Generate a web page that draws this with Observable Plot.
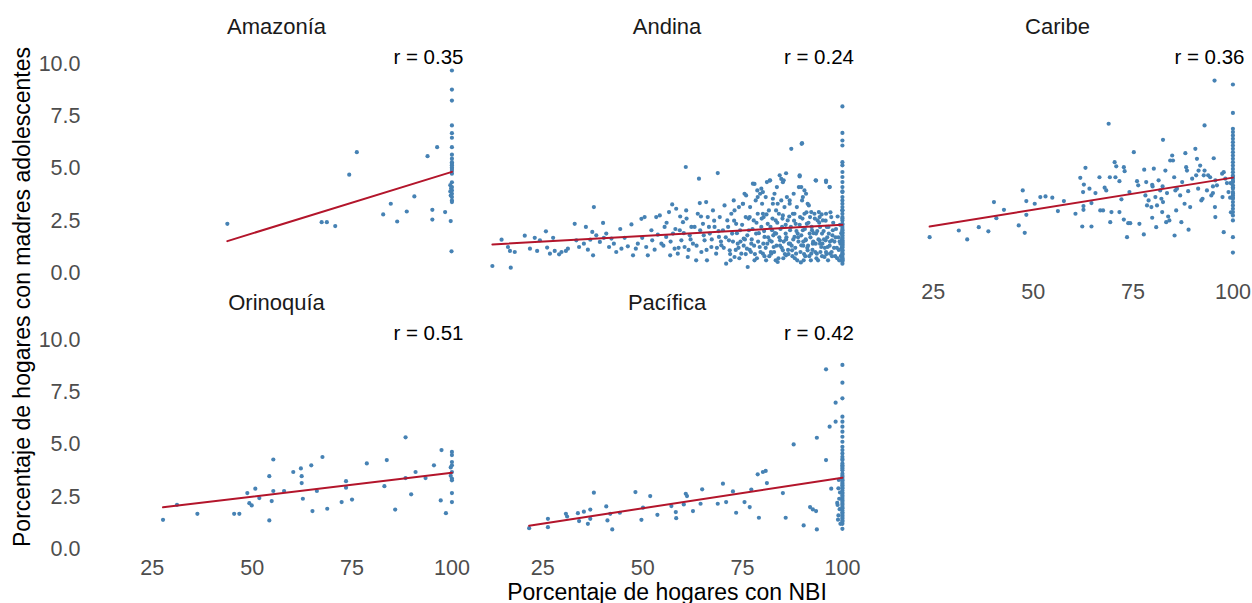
<!DOCTYPE html>
<html>
<head>
<meta charset="utf-8">
<script src="https://cdn.jsdelivr.net/npm/d3@7"></script>
<script src="https://cdn.jsdelivr.net/npm/@observablehq/plot@0.6"></script>
<style>
  html, body { margin: 0; padding: 0; background: #fff; }
  #wrap { position: relative; width: 1252px; height: 603px; font-family: "Liberation Sans", Arial, sans-serif; }
  #wrap svg { position: absolute; left: 0; top: 0; }
  .xtitle { position: absolute; left: 667px; top: 582px; transform: translateX(-50%); font-size: 23px; line-height: 20px; white-space: nowrap; color: #000; }
  .ytitle { position: absolute; left: 22px; top: 297px; transform: translate(-50%, -50%) rotate(-90deg); font-size: 23px; line-height: 23px; white-space: nowrap; color: #000; }
</style>
</head>
<body>
<div id="wrap"></div>
<script>
const regions = ["Amazonía", "Andina", "Caribe", "Orinoquía", "Pacífica"];
const regionCol = [0, 1, 2, 0, 1];
const regionRow = [0, 0, 0, 1, 1];
const rLabels = ["r = 0.35", "r = 0.24", "r = 0.36", "r = 0.51", "r = 0.42"];
const xTicks = [25, 50, 75, 100];
const yTicks = [0, 2.5, 5, 7.5, 10];
const xTitle = "Porcentaje de hogares con NBI";
const yTitle = "Porcentaje de hogares con madres adolescentes";

const amazonia = [
  [43.8,2.35],[67.4,2.43],[68.7,2.43],[70.8,2.24],[74.3,4.70],[76.2,5.78],[82.8,2.80],[84.7,3.31],
  [86.3,2.46],[88.7,2.94],[90.6,3.66],[93.9,5.59],[95.1,3.02],[95.1,2.55],[96.3,6.02],[98.3,2.91],
  [99.7,2.48],[99.9,1.03],
  [100,9.69],[100,8.78],[100,8.25],[100,7.06],[100,6.69],[100,6.47],[100,6.02],[100,5.66],[100,5.47],
  [100,5.23],[100,4.98],[100,4.75],[100,4.34],[100,4.11],[100,3.95],[100,3.79],[100,3.63],[100,3.47],
  [100,3.39],[99.6,4.2],[99.6,3.9],[99.7,3.7],[99.8,4.05],[100,5.05],[100,5.15],[100,5.3],[100,4.88]
];

const orinoquia = [
  [27.7,1.39],[31.2,2.11],[36.3,1.68],[45.5,1.68],[46.8,1.68],[48.8,2.67],[49.3,2.19],[49.9,2.08],
  [50.8,2.88],[51.8,2.43],[54.3,3.48],[54.3,1.36],[54.9,2.29],[55.3,4.28],[55.3,2.77],[58.0,2.77],
  [60.3,3.68],[62.2,3.85],[62.4,3.48],[62.4,3.15],[62.7,2.40],[64.8,4.00],[65.1,1.81],[66.2,2.77],
  [67.6,4.40],[68.8,1.92],[72.4,2.24],[73.5,3.24],[73.5,2.93],[75.0,2.36],[78.7,4.09],[83.1,3.00],
  [83.7,4.25],[85.8,1.88],[88.4,5.34],[88.4,3.39],[89.8,2.61],[90.9,3.68],[93.4,3.39],[95.5,4.00],
  [97.2,2.32],[97.4,4.73],[98.5,1.71],
  [100,4.64],[100,4.49],[100,4.16],[100,4.00],[100,3.68],[100,3.37],[100,3.28],[100,2.67],[100,2.24],
  [99.7,3.9],[99.7,3.5]
];

const pacifica = [
  [21.6,0.99],[26.3,1.44],[26.3,1.04],[30.8,1.68],[31.1,1.55],[33.8,1.71],[34.1,1.33],[35.3,1.78],
  [36.3,1.20],[36.9,1.88],[36.9,1.44],[37.8,2.69],[40.9,2.03],[41.2,1.36],[41.9,1.68],[42.4,0.93],
  [44.3,1.73],[48.2,2.72],[49.7,1.39],[50.1,1.97],[51.9,2.53],[53.7,1.63],[57.2,2.05],[58.3,1.76],
  [58.4,1.47],[60.3,2.13],[60.8,2.64],[61.1,2.53],[62.6,1.81],[64.5,2.16],[64.9,2.85],[68.8,2.16],
  [70.1,3.12],[70.9,2.24],[72.6,2.75],[73.4,1.73],[75.5,2.24],[76.8,2.00],[77.2,2.84],[78.8,3.57],
  [79.1,1.49],[80.1,3.68],[80.8,3.73],[81.1,3.15],[85.1,2.67],[85.8,1.49],[87.8,5.00],[90.3,1.12],
  [91.9,2.00],[92.6,1.89],[93.4,1.81],[93.6,5.32],[93.6,0.93],[95.9,8.60],[95.9,4.25],[96.8,5.85],
  [97.2,2.88],[98.3,7.00],[98.3,6.09],
  [100,8.81],[100,7.96],[100,7.21],[100,6.33],[100,6.09],[100,5.85],[100,5.61],[100,5.37],[100,5.13],
  [100,4.89],[100,4.73],[100,4.57],[100,4.41],[100,4.25],[100,4.09],[100,3.93],[100,3.76],[100,3.60],
  [100,3.44],[100,3.28],[100,3.12],[100,2.96],[100,2.80],[100,2.64],[100,2.48],[100,2.32],[100,2.16],
  [100,2.00],[100,1.84],[100,1.68],[100,1.52],[100,1.36],[100,1.20],[100,0.96],
  [100,4.3],[100,4.0],[100,3.85],[100,3.5],[100,3.35],[100,3.2],[100,3.05],[100,2.9],[100,2.7],
  [100,2.55],[100,2.4],[100,2.25],[100,2.1],[100,1.95],[100,1.75],[100,1.6],[100,1.45],[100,1.3],
  [99.0,2.9],[99.2,2.4],[98.8,2.1],[99.3,1.9],[99.0,1.6],[98.9,1.4],[99.4,2.7],[99.1,3.3],[98.7,2.2],[99.5,1.2]
];

const caribe = [
  [24.1,1.71],[31.4,2.03],[33.5,1.60],[36.4,2.19],[38.8,1.99],[40.2,3.39],[40.8,2.62],[42.7,3.02],
  [46.4,2.27],[47.4,3.95],[47.9,1.92],[48.3,3.44],[48.3,2.78],[50.4,3.31],[51.8,3.63],[53.1,3.66],
  [54.8,3.60],[56.2,2.96],[57.7,3.44],[60.6,2.83],[61.8,4.55],[62.3,2.22],[62.5,3.87],[62.7,4.23],
  [62.6,3.20],[62.6,3.02],[63.1,5.03],[64.1,4.03],[64.6,2.22],[64.6,3.34],[65.6,3.82],[66.6,4.58],
  [66.8,2.99],[67.5,2.99],[67.9,4.08],[68.3,3.95],[68.9,7.14],[69.2,4.58],[69.3,2.43],[69.6,2.91],
  [70.4,5.30],[70.8,5.10],[70.6,4.58],[71.6,4.39],[71.6,2.91],[72.1,3.52],[72.7,5.06],[72.9,4.87],
  [72.7,2.55],[73.5,1.71],[73.8,2.38],[74.3,2.38],[74.1,3.87],[75.2,5.78],[76.0,4.39],[76.3,4.19],
  [76.6,2.35],[77.7,1.84],[77.8,4.94],[78.1,3.71],[78.3,4.35],[78.5,3.23],[78.9,3.47],[79.6,3.15],
  [79.8,4.22],[79.9,4.14],[79.8,2.64],[80.2,4.99],[80.6,3.63],[80.8,2.19],[81.0,3.23],[81.4,4.43],
  [81.8,3.95],[82.4,4.14],[82.1,3.55],[82.5,3.39],[82.3,2.91],[82.5,6.37],[83.1,4.90],[83.3,2.43],
  [83.5,3.82],[83.8,2.70],[84.1,2.51],[84.3,5.38],[84.8,5.62],[85.0,5.38],[85.3,4.58],[85.4,1.79],
  [85.6,3.95],[86.0,4.03],[85.8,2.99],[86.8,3.71],[87.1,2.43],[87.3,4.35],[87.9,3.31],[88.1,5.73],
  [88.3,5.06],[88.5,4.90],[88.8,3.91],[88.9,2.07],[89.3,3.15],[89.8,4.51],[90.6,5.94],[90.8,4.67],
  [91.0,5.46],[91.3,4.03],[91.4,4.90],[91.8,5.14],[92.1,3.47],[92.4,3.55],[92.7,4.67],[92.9,4.90],
  [92.9,7.06],[93.5,3.95],[93.8,4.67],[94.3,4.58],[94.6,3.71],[95.0,3.82],[95.0,4.14],[95.2,5.49],
  [95.4,9.21],[95.5,3.15],[95.6,2.67],[95.6,4.43],[96.0,4.19],[97.3,4.75],[97.7,4.82],[97.4,3.63],
  [97.7,1.95],[98.1,4.51],[98.5,4.30],[98.9,3.87],
  [100,9.02],[100,7.66],[100,6.90],[100,6.74],[100,6.58],[100,6.42],[100,6.26],[100,6.10],[100,5.94],
  [100,5.78],[100,5.62],[100,5.46],[100,5.30],[100,5.14],[100,4.98],[100,4.82],[100,4.66],[100,4.51],
  [100,4.35],[100,4.19],[100,4.03],[100,3.87],[100,3.71],[100,3.55],[100,3.39],[100,3.23],[100,3.07],
  [100,2.91],[100,2.75],[100,2.51],[100,1.71],[100,0.97],
  [100,4.6],[100,4.4],[100,4.1],[100,3.8],[100,3.6],[99.4,4.3],[99.3,3.6],[99.5,2.9]
];

const andina = [
  [12.4,0.33],[14.7,1.59],[17.0,0.25],[16.3,1.24],[16.8,1.05],[18.0,1.00],[20.5,1.78],[21.8,1.16],
  [23.0,1.68],[23.6,1.05],[24.3,1.56],[25.8,1.99],[26.1,1.21],[26.8,0.92],[27.6,1.68],[28.0,1.05],
  [29.1,0.89],[29.7,1.00],[30.8,1.05],[31.3,1.16],[33.0,2.35],[33.4,1.56],[34.1,1.24],[35.3,1.40],
  [36.3,1.11],[35.8,2.20],[36.9,1.59],[37.4,1.96],[37.6,0.84],[37.8,3.15],[38.4,1.80],[39.3,1.48],
  [40.1,2.39],[40.3,1.68],[40.9,1.88],[41.6,1.24],[42.2,1.64],[42.8,1.40],[43.4,1.00],[44.4,2.10],
  [44.7,1.16],[45.5,1.68],[46.3,1.27],[47.2,2.32],[47.6,0.84],[48.3,1.16],[48.8,1.40],[49.7,2.59],
  [49.9,1.68],[50.5,2.67],[50.9,1.24],[51.3,0.84],[52.2,2.04],[52.4,1.56],[53.0,1.11],[53.4,2.67],
  [53.8,1.83],[54.3,2.75],[54.7,1.40],[55.5,2.20],[55.9,1.72],[56.6,2.91],[56.9,0.84],[57.4,3.28],
  [57.6,1.88],[58.0,1.16],[58.4,3.07],[58.8,0.92],[59.3,2.04],[59.4,2.70],[59.7,1.56],[60.1,2.43],
  [60.5,1.24],[60.8,5.07],[60.9,2.99],[61.3,0.76],[61.8,1.80],[62.2,2.20],[62.6,1.40],[63.4,0.60],
  [63.8,2.83],[64.1,4.51],[64.3,3.34],[64.4,2.04],[64.7,1.00],[65.1,2.35],[65.5,1.56],[65.9,3.39],
  [66.1,0.60],[66.3,2.67],[66.8,1.88],[67.2,1.24],[67.6,2.99],[68.0,2.20],[68.4,0.92],[68.8,4.78],
  [69.1,1.72],[69.3,2.67],[69.7,1.32],[70.1,2.04],[70.5,3.23],[70.9,0.44],[71.2,2.51],[71.6,1.56],
  [71.8,1.08],[72.2,2.83],[72.4,1.88],[72.8,3.47],[73.0,0.76],[73.4,2.35],[73.8,1.40],[74.1,3.15],
  [74.4,2.04],[74.7,0.92],[75.1,3.31],[75.3,1.64],[75.5,3.79],[75.8,2.67],[76.1,1.16],[76.3,0.28],
  [76.6,2.04],[76.9,3.15],[77.2,1.40],[77.6,4.27],[77.8,2.51],[78.0,0.60],[78.3,3.47],[78.4,1.88],
  [78.7,3.95],[78.8,2.83],[79.3,1.24],[79.4,3.79],[79.7,2.20],[79.9,3.31],[80.1,0.92],[80.3,2.67],
  [80.5,1.72],[80.8,3.63],[80.9,0.60],[81.1,4.35],[81.3,2.35],[81.6,2.99],[81.8,1.56],[81.9,4.43],
  [82.2,0.92],[82.4,2.04],[82.6,3.31],[82.8,1.24],[83.0,3.79],[83.3,2.51],[83.4,1.88],[83.6,4.11],
  [83.8,0.52],[84.1,2.83],[84.3,4.67],[84.4,1.56],[84.7,3.47],[84.9,2.20],[85.1,1.08],[85.3,4.43],
  [85.5,3.15],[85.8,1.88],[85.9,0.84],[86.1,3.63],[86.3,2.51],[86.6,1.40],[86.8,3.31],[86.9,2.04],
  [87.2,5.94],[87.4,1.08],[87.6,2.83],[87.8,3.79],[88.0,1.72],[88.3,2.35],[88.4,0.92],[88.6,3.15],
  [88.8,1.88],[89.1,4.11],[89.3,4.67],[89.4,2.67],[89.7,1.32],[89.8,6.18],[89.9,3.47],[90.1,2.04],
  [90.3,0.60],[90.5,2.83],[90.8,1.56],[90.9,3.79],[91.1,2.35],[91.3,1.08],[91.6,3.23],[91.8,1.88],
  [91.9,2.67],[92.2,0.92],[92.4,2.04],[92.6,1.40],[93.0,2.83],[93.3,4.43],[93.4,1.88],[93.6,0.92],
  [93.8,2.51],[94.1,2.91],[94.3,1.56],[94.4,2.20],[94.7,1.24],[94.9,1.88],[95.1,2.51],[95.5,0.76],
  [95.8,1.56],[95.9,4.35],[96.1,2.20],[96.3,1.24],[96.6,1.88],[96.8,4.11],[96.9,0.92],[97.2,2.67],
  [97.4,1.56],[97.6,2.04],
  [70.3,1.2],[70.8,1.7],[71.4,2.2],[71.9,0.9],[72.6,1.5],[72.9,2.5],[73.3,1.1],[73.6,1.9],[74.2,0.7],
  [74.5,1.5],[74.9,2.3],[75.3,1.3],[75.8,0.9],[76.2,1.8],[76.5,2.6],[76.8,1.1],[77.3,1.6],[77.5,2.1],
  [77.9,1.3],[78.1,0.9],[78.5,2.4],[78.9,1.5],[79.1,1.9],[79.5,1.0],[79.8,2.6],[80.2,1.4],[80.4,2.0],
  [80.8,1.2],[81.0,2.8],[81.4,1.7],[81.7,0.8],[82.0,2.2],[82.3,1.5],[82.5,2.6],[82.9,1.0],[83.1,1.9],
  [83.5,1.3],[83.7,2.4],[84.0,0.7],[84.2,1.7],[84.5,2.1],[84.8,1.2],[85.0,2.6],[85.3,1.5],[85.6,0.9],
  [85.8,2.3],[86.0,1.7],[86.4,1.1],[86.7,2.7],[86.9,1.4],[87.1,2.2],[87.5,0.8],[87.7,1.6],[87.9,2.5],
  [88.2,1.2],[88.5,2.0],[88.7,0.6],[89.0,1.5],[89.3,2.3],[89.5,1.0],[89.7,1.8],[90.0,2.6],[90.2,1.3],
  [90.4,0.9],[90.6,2.1],[90.8,1.6],[91.0,2.9],[91.2,1.2],[91.5,2.4],[91.7,0.8],[92.0,1.7],[92.3,2.2],
  [92.5,1.1],[92.8,1.9],[93.1,2.6],[93.3,1.4],[93.5,0.7],[93.7,2.0],[94.0,1.6],[94.2,2.4],[94.5,1.0],
  [94.8,2.8],[95.0,1.4],[95.3,2.0],[95.6,1.2],[95.8,2.5],[96.0,0.9],[96.2,1.7],[96.5,2.2],[96.8,1.3],
  [97.0,2.9],[97.3,1.0],[97.5,1.8],[97.7,2.4],[98.0,1.5],[98.2,0.8],[98.4,2.1],[98.6,1.2],[98.8,2.7],
  [99.0,1.7],[99.2,0.6],[99.4,2.3],[99.5,1.4],[99.7,1.9],
  [55.2,1.3],[56.0,2.4],[57.0,1.5],[58.2,2.1],[59.0,1.2],[60.3,1.9],[61.0,2.6],[61.5,1.1],[62.0,1.6],
  [63.0,2.2],[63.5,1.3],[64.6,2.7],[65.3,1.8],[66.0,1.1],[66.6,2.2],[67.3,1.6],[67.9,2.5],[68.6,1.2],
  [69.0,2.0],[69.6,1.5],
  [78.0,4.26],[79.7,4.03],[81.8,4.42],[84.7,4.50],[85.1,4.34],[85.9,4.77],[89.3,4.62],[89.7,4.11],
  [90.5,3.95],[93.4,4.42],[95.9,4.42],[96.8,4.11],[75.9,3.71],[75.1,3.31],[78.8,3.63],[80.1,3.87],
  [82.6,3.55],[83.8,3.31],[86.8,3.47],[90.1,3.63],[91.3,3.31],[94.3,2.67],[73.0,2.99],[76.8,2.67],
  [80.1,2.83],[83.4,2.99],[85.1,2.75],[88.0,2.83],[92.2,2.91],[95.9,2.83],[89.9,6.21],
  [80.5,0.8],[81.2,1.4],[82.1,1.0],[82.7,1.8],[83.3,0.6],[84.4,1.3],[85.2,0.7],[85.9,1.6],[86.5,0.9],
  [87.3,1.3],[88.1,0.7],[88.9,1.7],[89.6,0.5],[90.2,1.5],[90.7,0.8],[91.4,1.3],[92.1,0.6],[92.7,1.5],
  [93.2,1.0],[93.9,0.6],[94.4,1.4],[94.9,0.8],[95.4,1.6],[95.9,1.0],[96.4,0.6],[96.9,1.5],[97.4,0.8],
  [97.9,1.2],[98.3,1.7],[98.7,0.7],[99.1,1.1],[99.3,1.5],[99.6,0.8],[99.8,1.2],[99.9,0.6],[99.9,1.6],
  [78.6,0.7],[77.1,1.0],[75.6,1.6],[74.0,1.2],[72.0,0.6],
  [100,7.97],[100,6.70],[100,6.34],[100,6.10],[100,5.30],[100,5.15],[100,4.83],[100,4.59],[100,4.35],
  [100,4.11],[100,3.87],[100,3.63],[100,3.47],[100,3.31],[100,3.15],[100,2.99],[100,2.83],[100,2.67],
  [100,2.51],[100,2.35],[100,2.20],[100,2.04],[100,1.88],[100,1.72],[100,1.56],[100,1.40],[100,1.24],
  [100,1.08],[100,0.92],[100,0.76],[100,0.60],[100,0.44],
  [100,3.9],[100,3.0],[100,2.6],[100,2.3],[100,2.1],[100,1.95],[100,1.8],[100,1.65],[100,1.5],
  [100,1.35],[100,1.2],[100,1.0],[100,0.85],[100,0.7],[100,0.55],
  [100,1.1],[100,0.9],[100,1.3],[100,1.45],[100,0.65]
];

const series = [amazonia, andina, caribe, orinoquia, pacifica];

const rows = series.flatMap((pts, i) =>
  pts.map(([x, y]) => ({ region: regions[i], col: regionCol[i], row: regionRow[i], x, y }))
);
const info = regions.map((name, i) => ({ name, col: regionCol[i], row: regionRow[i], r: rLabels[i] }));

const chart = Plot.plot({
  width: 1252,
  height: 603,
  marginLeft: 83,
  marginRight: 2,
  marginTop: 60,
  marginBottom: 49,
  style: { fontFamily: "'Liberation Sans', Arial, sans-serif", background: "transparent", overflow: "visible" },
  fx: { domain: [0, 1, 2], paddingInner: 0.01152, paddingOuter: 0, round: false, axis: null },
  fy: { domain: [0, 1], paddingInner: 0.2101, paddingOuter: 0, round: false, axis: null },
  x: { domain: [7.8, 104.4] },
  y: { domain: [-0.27, 10.17] },
  marks: [
    Plot.axisX({ ticks: xTicks, tickSize: 0, tickPadding: 5, fontSize: 21.5, color: "#4d4d4d", label: null, facetAnchor: "bottom-empty" }),
    Plot.axisY({ ticks: yTicks, tickFormat: d3.format(".1f"), tickSize: 0, tickPadding: 3, fontSize: 21.5, color: "#4d4d4d", label: null, facetAnchor: "left" }),
    Plot.dot(rows, { x: "x", y: "y", fx: "col", fy: "row", r: 2.1, fill: "#4682b4", stroke: "none" }),
    Plot.linearRegressionY(rows, { x: "x", y: "y", fx: "col", fy: "row", stroke: "#b3152b", strokeWidth: 2, ci: 0 }),
    Plot.text(info, { fx: "col", fy: "row", text: "name", frameAnchor: "top", dy: -34, lineAnchor: "middle", fontSize: 22, fill: "#1a1a1a" }),
    Plot.text(info, { fx: "col", fy: "row", text: "r", frameAnchor: "top-right", dx: -6, dy: -3, lineAnchor: "middle", fontSize: 20.5, fill: "#000" })
  ]
});

const wrap = document.getElementById("wrap");
wrap.appendChild(chart);
const xt = document.createElement("div"); xt.className = "xtitle"; xt.textContent = xTitle; wrap.appendChild(xt);
const yt = document.createElement("div"); yt.className = "ytitle"; yt.textContent = yTitle; wrap.appendChild(yt);
</script>
</body>
</html>
